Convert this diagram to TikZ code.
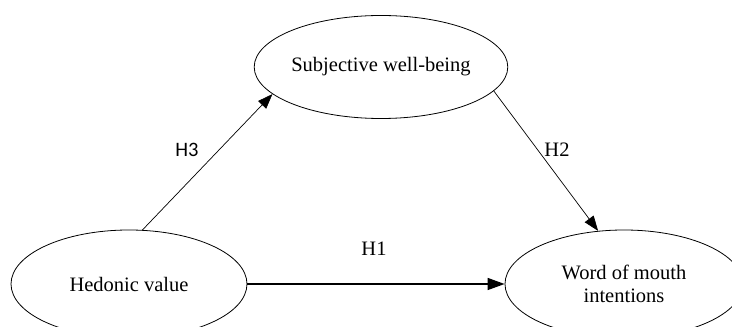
\documentclass[tikz,border=0pt]{standalone}
\usepackage{fontspec}
\setmainfont{Liberation Serif}
\newfontfamily\labelsans{Carlito}
\usetikzlibrary{arrows.meta}
\usetikzlibrary{shapes.geometric}

\begin{document}
\begin{tikzpicture}[x=1pt, y=1pt, line cap=round, line join=round,
    construct/.style={draw, ellipse, line width=0.8pt, minimum width=236pt,
      minimum height=106pt, inner sep=0pt, align=center,
      font=\fontsize{20.5}{23}\selectfont},
    hyp/.style={-{Triangle[length=15pt, width=11pt]}, line width=0.7pt},
    hypmain/.style={-{Triangle[length=17pt, width=12pt]}, line width=1.4pt},
    hlabel/.style={font=\fontsize{20.5}{23}\selectfont, inner sep=0pt}]
  \useasboundingbox (0, 0) rectangle (732, 327);
  %--- Subjective well-being
    \node[construct, minimum height=103pt] (swb) at (381, 260) {Subjective well-being};
  %--- Hedonic value
    \node[construct, minimum height=108pt] (hed) at (129, 43) {Hedonic value};
  %--- Word of mouth intentions
    \node[construct, minimum height=108pt, minimum width=238pt] (wom) at (624, 43)
      {Word of mouth\\intentions};
  %--- H3
    \draw[hyp] (hed.76) -- (swb.194) ;
    \node[hlabel, font=\fontsize{20.5}{23}\labelsans] (h3) at (187, 177) {H3};
  %--- H2
    \draw[hyp] (swb.348) -- (wom.116) ;
    \node[hlabel] (h2) at (557, 177) {H2};
  %--- H1
    \draw[hypmain] (hed.east) -- (wom.west) ;
    \node[hlabel] (h1) at (374, 78) {H1};
\end{tikzpicture}
\end{document}
